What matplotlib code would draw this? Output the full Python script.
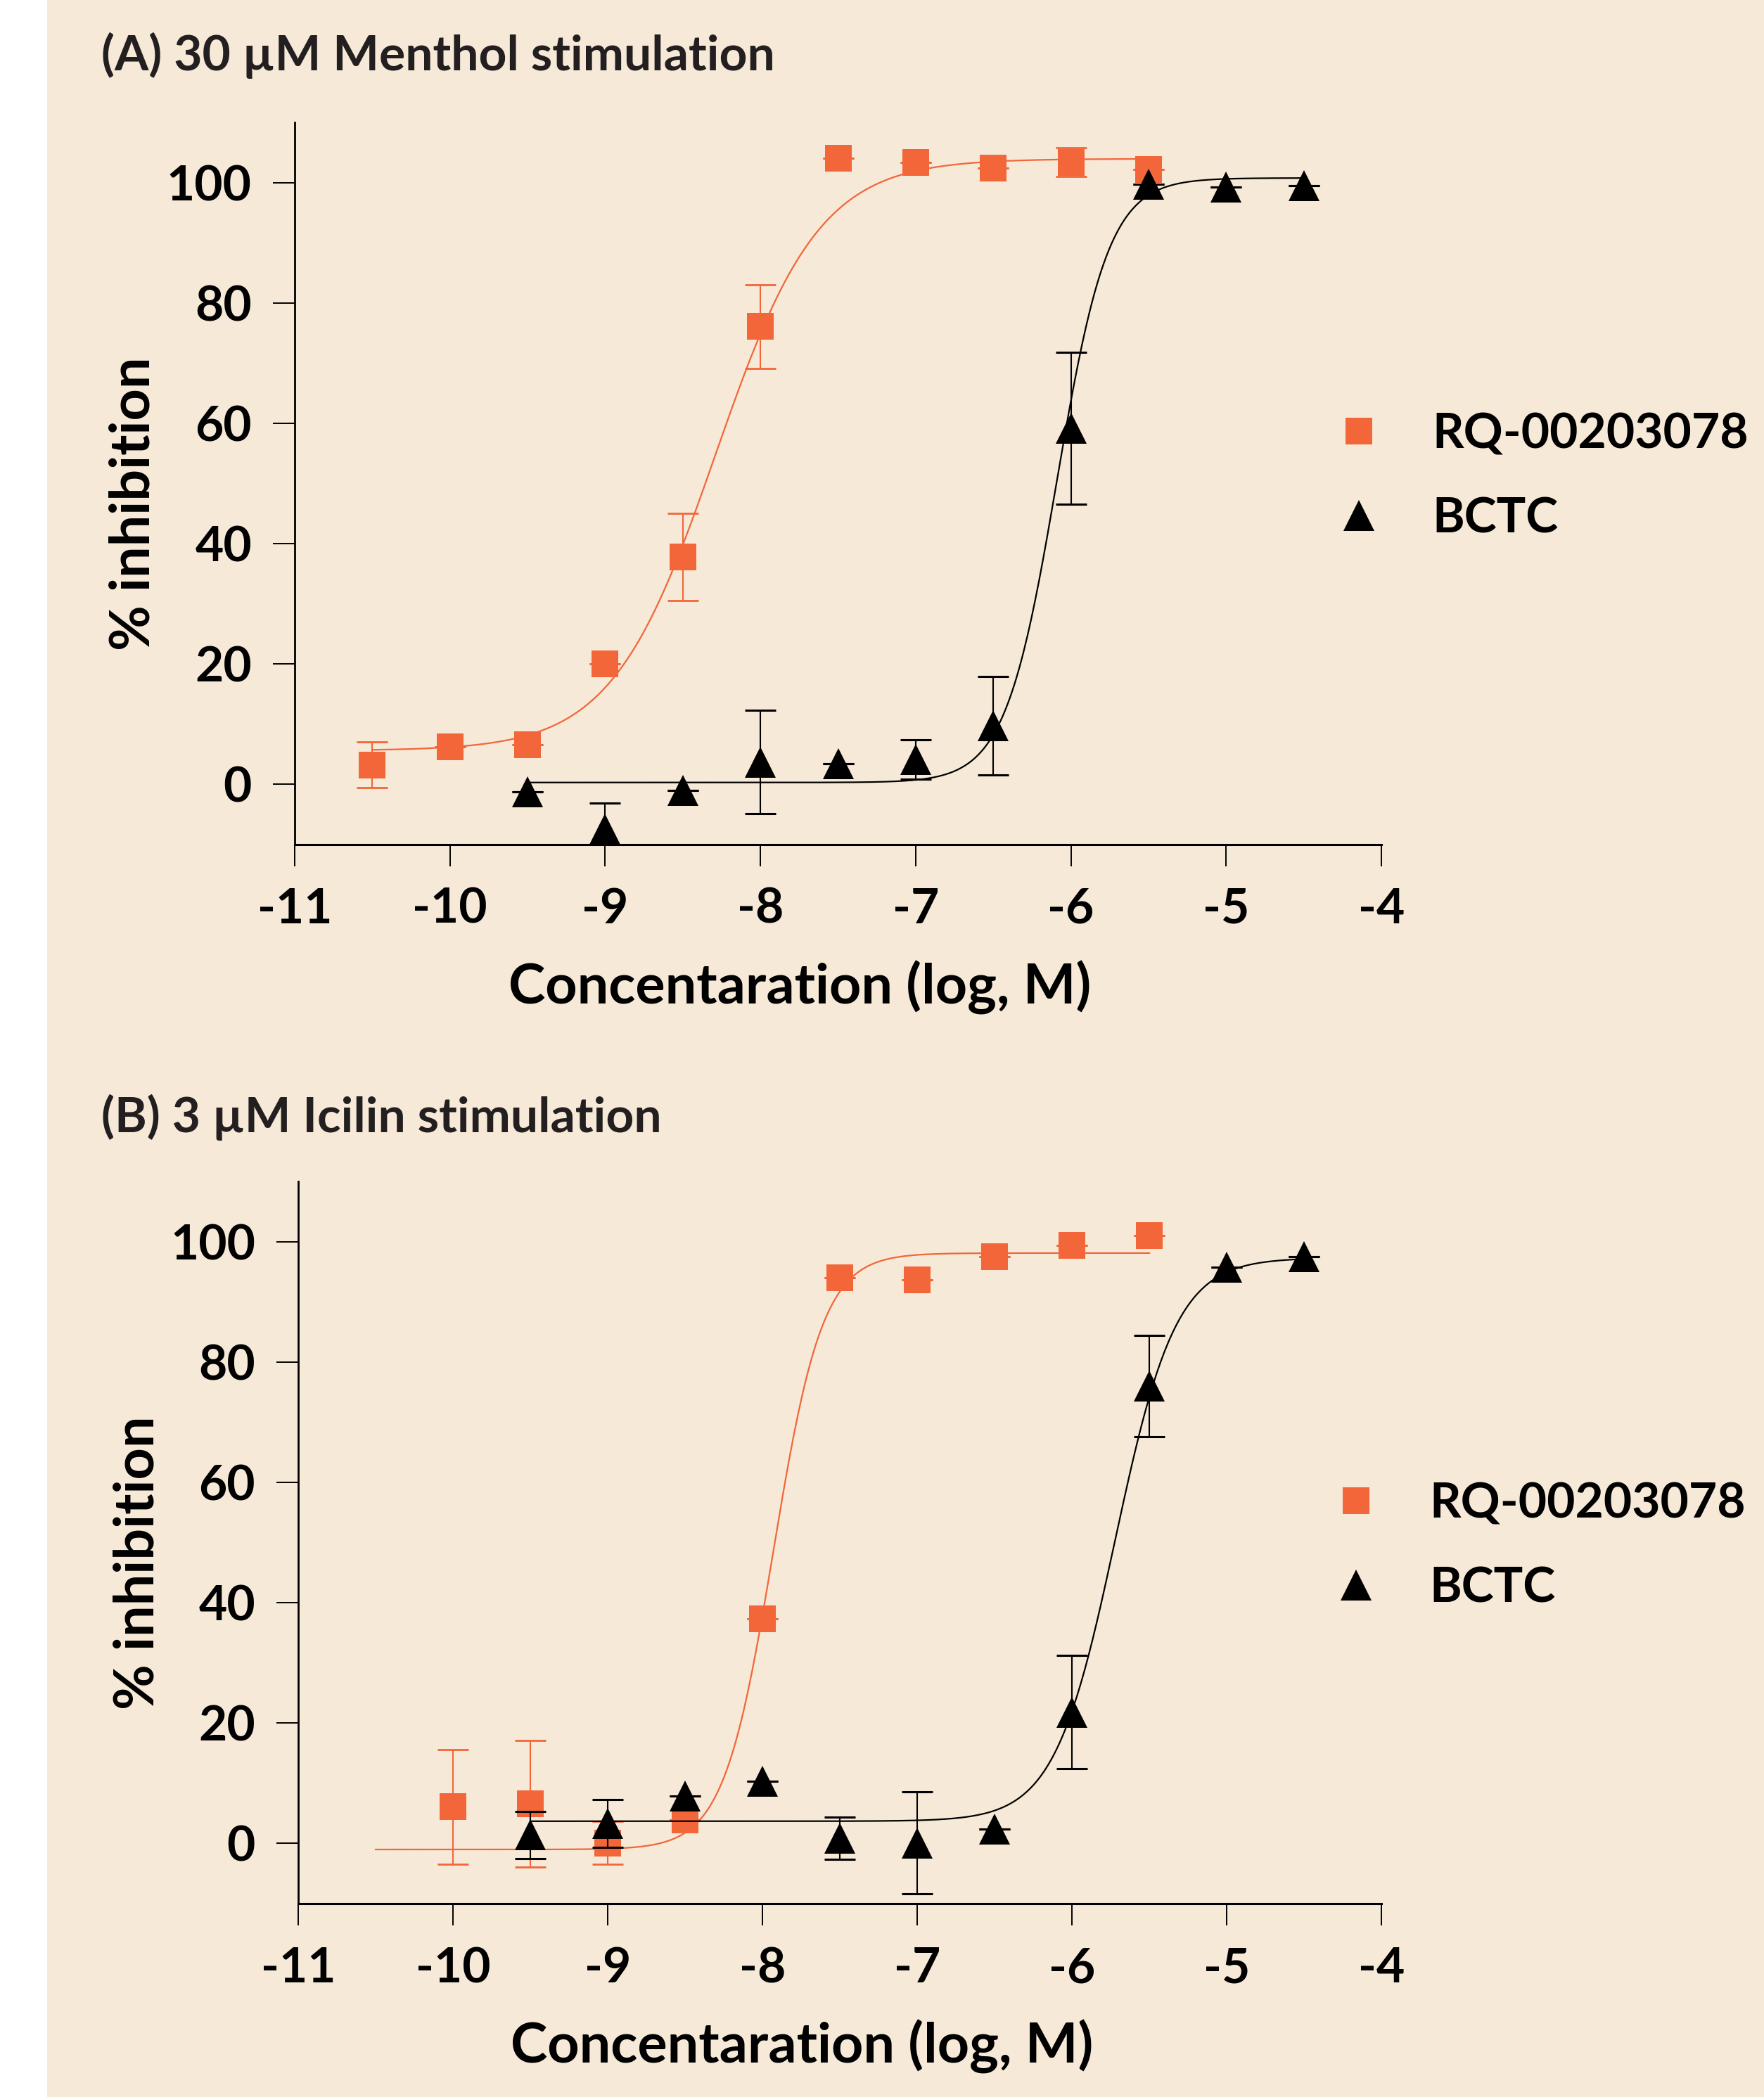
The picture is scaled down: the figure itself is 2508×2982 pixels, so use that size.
import numpy as np
import matplotlib.pyplot as plt
from matplotlib.patches import Rectangle
from matplotlib.lines import Line2D

plt.rcParams['font.family'] = ['Lato', 'DejaVu Sans']
plt.rcParams['font.weight'] = 'bold'
plt.rcParams['axes.unicode_minus'] = False

# --- dados ---
# (A) 30 uM mentol
a_rq_x = [-10.5, -10.0, -9.5, -9.0, -8.5, -8.0, -7.5, -7.0, -6.5, -6.0, -5.5]
a_rq_y = [3.2, 6.2, 6.6, 20.0, 37.8, 76.1, 104.1, 103.4, 102.4, 103.4, 102.2]
a_rq_err = [3.8, 0, 0, 0, 7.3, 7.0, 0, 0, 0, 2.4, 0]
a_bctc_x = [-9.5, -9.0, -8.5, -8.0, -7.5, -7.0, -6.5, -6.0, -5.5, -5.0, -4.5]
a_bctc_y = [-1.3, -7.4, -1.0, 3.7, 3.4, 4.1, 9.7, 59.2, 99.8, 99.3, 99.5]
a_bctc_err = [0, 4.3, 0, 8.6, 0, 3.3, 8.2, 12.6, 0, 0, 0]

# (B) 3 uM icilina
b_rq_x = [-10.0, -9.5, -9.0, -8.5, -8.0, -7.5, -7.0, -6.5, -6.0, -5.5]
b_rq_y = [6.1, 6.6, 0.1, 3.9, 37.3, 94.0, 93.7, 97.5, 99.4, 101.0]
b_rq_err = [9.5, 10.5, 3.6, 0, 0, 0, 0, 0, 0, 0]
b_bctc_x = [-9.5, -9.0, -8.5, -8.0, -7.5, -7.0, -6.5, -6.0, -5.5, -5.0, -4.5]
b_bctc_y = [1.4, 3.3, 7.9, 10.3, 0.9, 0.1, 2.4, 21.8, 76.0, 95.7, 97.5]
b_bctc_err = [3.9, 4.0, 0, 0, 3.5, 8.5, 0, 9.4, 8.4, 0, 0]

# parametros do ajuste (bottom, top, logIC50, hill, x inicial, x final)
a_rq_fit = [5.6, 104.0, -8.29, 1.3, -10.5, -5.5]
a_bctc_fit = [0.3, 100.8, -6.09, 2.6, -9.5, -4.5]
b_rq_fit = [-1.0, 98.1, -7.93, 2.7, -10.5, -5.5]
b_bctc_fit = [3.7, 97.3, -5.72, 2.2, -9.5, -4.5]

titles = ['(A) 30 \u00b5M Menthol stimulation', '(B) 3 \u00b5M Icilin stimulation']
labels = ['RQ-00203078', 'BCTC']
xticks = [-11, -10, -9, -8, -7, -6, -5, -4]
yticks = [0, 20, 40, 60, 80, 100]

red = '#F26639'
bg = '#F6E9D7'


def hill(fit):
    bottom, top, logic50, h, x0, x1 = fit
    xx = np.linspace(x0, x1, 400)
    return xx, bottom + (top - bottom) / (1 + 10 ** ((logic50 - xx) * h))


fig = plt.figure(figsize=(25.08, 29.82), dpi=100, facecolor='white')
fig.patches.append(Rectangle((67 / 2508, 0), 1, 1, transform=fig.transFigure,
                             facecolor=bg, edgecolor='none', zorder=-10))

ax_pos = [[0.1671, 0.5973, 0.6160, 0.3442], [0.1691, 0.0922, 0.6140, 0.3444]]
dados = [
    (a_rq_x, a_rq_y, a_rq_err, a_rq_fit, a_bctc_x, a_bctc_y, a_bctc_err, a_bctc_fit),
    (b_rq_x, b_rq_y, b_rq_err, b_rq_fit, b_bctc_x, b_bctc_y, b_bctc_err, b_bctc_fit),
]
title_y = [1 - 100 / 2982, 1 - 1610 / 2982]
# ancora da legenda (pixels da figura)
leg_anchor = [(1904, 678), (1900, 2199)]

for i in range(2):
    rx, ry, re, rfit, bx, by, be, bfit = dados[i]
    ax = fig.add_axes(ax_pos[i])
    ax.set_facecolor('none')

    # curva + pontos RQ
    xx, yy = hill(rfit)
    ax.plot(xx, yy, color=red, lw=1.6, zorder=2)
    ax.errorbar(rx, ry, yerr=re, fmt='none', ecolor=red, elinewidth=1.5,
                capsize=16, capthick=2, zorder=2)
    ax.plot(rx, ry, 's', color=red, ms=28, mew=0, zorder=3)

    # curva + pontos BCTC
    xx, yy = hill(bfit)
    ax.plot(xx, yy, color='black', lw=1.6, zorder=4)
    ax.errorbar(bx, by, yerr=be, fmt='none', ecolor='black', elinewidth=1.5,
                capsize=16, capthick=2.2, zorder=4)
    ax.plot(bx, by, '^', color='black', ms=31, mew=0, zorder=5)

    ax.set_xlim(-11, -4)
    ax.set_ylim(-10, 110)
    ax.set_xticks(xticks)
    ax.set_yticks(yticks)
    ax.set_xticklabels([str(t) for t in xticks])
    ax.spines['top'].set_visible(False)
    ax.spines['right'].set_visible(False)
    ax.spines['left'].set_linewidth(2)
    ax.spines['bottom'].set_linewidth(2.2)
    ax.tick_params(axis='both', direction='out', length=22, width=1.4,
                   labelsize=50, pad=22)

    ax.set_xlabel('Concentaration (log, M)', fontsize=57, fontweight='bold')
    ax.xaxis.set_label_coords(0.465, -0.198)
    ax.xaxis.label.set_va('center')
    ax.set_ylabel('% inhibition', fontsize=57, fontweight='bold')
    ax.yaxis.set_label_coords(-0.148, 0.472)
    ax.yaxis.label.set_va('center')

    fig.text(144 / 2508, title_y[i], titles[i], fontsize=50, fontweight='bold',
             color='#231F20', va='baseline', ha='left')

    handles = [Line2D([], [], marker='s', color=red, ls='none', ms=28, mew=0),
               Line2D([], [], marker='^', color='black', ls='none', ms=31, mew=0)]
    lx, ly = leg_anchor[i]
    fig.legend(handles, labels, loc='center left',
               bbox_to_anchor=(lx / 2508, 1 - ly / 2982), bbox_transform=fig.transFigure,
               frameon=False, fontsize=50, handlelength=0.8, handletextpad=1.1,
               labelspacing=0.82, borderaxespad=0, borderpad=0)

fig.savefig('out.png', dpi=100, facecolor=fig.get_facecolor())
